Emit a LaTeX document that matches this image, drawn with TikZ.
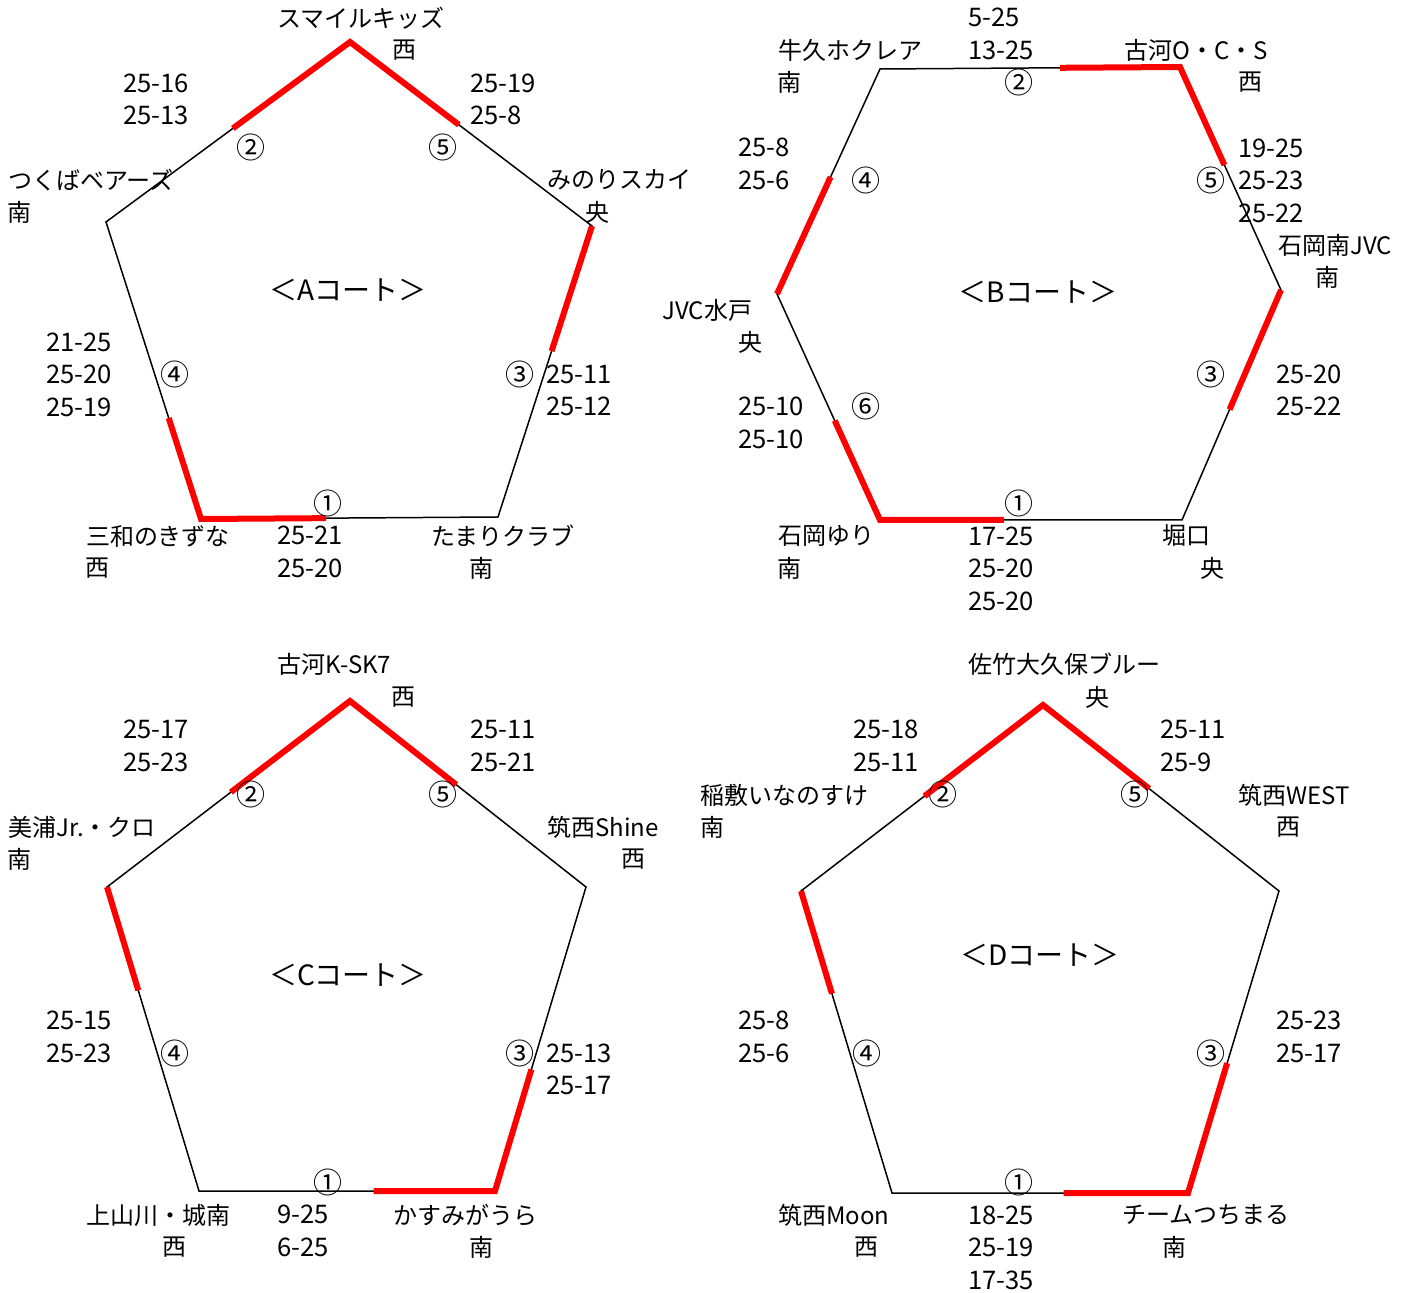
\documentclass[tikz,border=0pt]{standalone}
\usepackage{fontspec}
\setmainfont{Noto Sans CJK JP}
\usetikzlibrary{calc}
\newcommand\lblfont{\fontsize{12pt}{16.25pt}\selectfont}
\newcommand\scorefont{\fontsize{12.8pt}{16.25pt}\selectfont}
\newcommand\matchfont{\fontsize{14.5pt}{16pt}\selectfont}
\newcommand\courtfont{\fontsize{14pt}{16pt}\selectfont}

\begin{document}
\begin{tikzpicture}[x=0.5pt, y=-0.5pt,
  edge/.style={draw=black, line width=0.75pt},
  win/.style={draw=red, line width=3pt, line join=miter},
  lbl/.style={inner sep=0pt, font=\lblfont, anchor=west},
  score/.style={inner sep=0pt, font=\scorefont, align=left, anchor=west},
  area/.style={inner sep=0pt, font=\lblfont},
  match/.style={inner sep=0pt, font=\matchfont},
  court/.style={inner sep=0pt, font=\courtfont}
]
\useasboundingbox (0,0) rectangle (1425,1293);

% ---------------- A court
\coordinate (aT) at (350,42);
\coordinate (aL) at (106,222);
\coordinate (aR) at (592,226);
\coordinate (aBL) at (201,519);
\coordinate (aBR) at (498,517);
\draw[edge] (aT) -- (aR) -- (aBR) -- (aBL) -- (aL) -- cycle;
\draw[win] ($(aT)!0.48!(aL)$) -- (aT) -- ($(aT)!0.45!(aR)$);
\draw[win] (aR) -- ($(aR)!0.43!(aBR)$);
\draw[win] ($(aBL)!0.34!(aL)$) -- (aBL) -- ($(aBL)!0.42!(aBR)$);

\node[court] (aTitle) at (348,290) {＜Aコート＞};
\node[match] (aM1) at (328,503) {①};
\node[match] (aM2) at (251,147) {②};
\node[match] (aM3) at (520,374) {③};
\node[match] (aM4) at (175,374) {④};
\node[match] (aM5) at (443,147) {⑤};

\node[lbl] (aN1) at (277,18) {スマイルキッズ};
\node[area] (aA1) at (404,50) {西};
\node[lbl] (aN2) at (8,180) {つくばベアーズ};
\node[area] (aA2) at (20,212) {南};
\node[lbl] (aN3) at (547,180) {みのりスカイ};
\node[area] (aA3) at (597,212) {央};
\node[lbl] (aN4) at (86,536) {三和のきずな};
\node[area] (aA4) at (97,568) {西};
\node[lbl] (aN5) at (431,536) {たまりクラブ};
\node[area] (aA5) at (481,568) {南};

\node[score] (aS2) at (123,99.5) {25-16\\25-13};
\node[score] (aS5) at (470,99.5) {25-19\\25-8};
\node[score] (aS4) at (46,374.5) {21-25\\25-20\\25-19};
\node[score] (aS3) at (546,390.5) {25-11\\25-12};
\node[score] (aS1) at (277,552) {25-21\\25-20};

% ---------------- B court
\coordinate (bTL) at (880,69);
\coordinate (bTR) at (1180,67);
\coordinate (bR) at (1281,290);
\coordinate (bBR) at (1182,520);
\coordinate (bBL) at (880,520);
\coordinate (bL) at (777,294);
\draw[edge] (bTL) -- (bTR) -- (bR) -- (bBR) -- (bBL) -- (bL) -- cycle;
\draw[win] ($(bTR)!0.40!(bTL)$) -- (bTR) -- ($(bTR)!0.44!(bR)$);
\draw[win] (bR) -- ($(bR)!0.52!(bBR)$);
\draw[win] (bL) -- ($(bL)!0.52!(bTL)$);
\draw[win] ($(bBL)!0.44!(bL)$) -- (bBL) -- ($(bBL)!0.41!(bBR)$);

\node[court] (bTitle) at (1038,292) {＜Bコート＞};
\node[match] (bM1) at (1019,503) {①};
\node[match] (bM2) at (1019,82) {②};
\node[match] (bM3) at (1211,374) {③};
\node[match] (bM4) at (866,180) {④};
\node[match] (bM5) at (1211,180) {⑤};
\node[match] (bM6) at (866,406) {⑥};

\node[lbl] (bN1) at (778,50) {牛久ホクレア};
\node[area] (bA1) at (789,82) {南};
\node[lbl] (bN2) at (1124,50) {古河O・C・S};
\node[area] (bA2) at (1250,82) {西};
\node[lbl] (bN3) at (1278,245) {石岡南JVC};
\node[area] (bA3) at (1327,277) {南};
\node[lbl] (bN4) at (662,310) {JVC水戸};
\node[area] (bA4) at (750,342) {央};
\node[lbl] (bN5) at (778,536) {石岡ゆり};
\node[area] (bA5) at (789,568) {南};
\node[lbl] (bN6) at (1162,536) {堀口};
\node[area] (bA6) at (1212,568) {央};

\node[score] (bS2) at (968,34) {5-25\\13-25};
\node[score] (bS4) at (738,164) {25-8\\25-6};
\node[score] (bS5) at (1238,180.5) {19-25\\25-23\\25-22};
\node[score] (bS3) at (1276,390.5) {25-20\\25-22};
\node[score] (bS6) at (738,423) {25-10\\25-10};
\node[score] (bS1) at (968,568.5) {17-25\\25-20\\25-20};

% ---------------- C court
\coordinate (cT) at (350,701);
\coordinate (cL) at (107,887);
\coordinate (cR) at (586,887);
\coordinate (cBL) at (199,1191);
\coordinate (cBR) at (495,1191);
\draw[edge] (cT) -- (cR) -- (cBR) -- (cBL) -- (cL) -- cycle;
\draw[win] ($(cT)!0.49!(cL)$) -- (cT) -- ($(cT)!0.45!(cR)$);
\draw[win] (cL) -- ($(cL)!0.34!(cBL)$);
\draw[win] ($(cBR)!0.40!(cR)$) -- (cBR) -- ($(cBR)!0.41!(cBL)$);

\node[court] (cTitle) at (348,975) {＜Cコート＞};
\node[match] (cM1) at (328,1182) {①};
\node[match] (cM2) at (251,794) {②};
\node[match] (cM3) at (520,1053) {③};
\node[match] (cM4) at (175,1053) {④};
\node[match] (cM5) at (443,794) {⑤};

\node[lbl] (cN1) at (277,664) {古河K-SK7};
\node[area] (cA1) at (403,697) {西};
\node[lbl] (cN2) at (8,827) {美浦Jr.・クロ};
\node[area] (cA2) at (20,859) {南};
\node[lbl] (cN3) at (547,827) {筑西Shine};
\node[area] (cA3) at (633,859) {西};
\node[lbl] (cN4) at (86,1215) {上山川・城南};
\node[area] (cA4) at (174,1247) {西};
\node[lbl] (cN5) at (393,1215) {かすみがうら};
\node[area] (cA5) at (481,1247) {南};

\node[score] (cS2) at (123,746) {25-17\\25-23};
\node[score] (cS5) at (470,746) {25-11\\25-21};
\node[score] (cS4) at (46,1037) {25-15\\25-23};
\node[score] (cS3) at (546,1069.5) {25-13\\25-17};
\node[score] (cS1) at (277,1231) {9-25\\6-25};

% ---------------- D court
\coordinate (dT) at (1043,705);
\coordinate (dL) at (801,891);
\coordinate (dR) at (1279,891);
\coordinate (dBL) at (892,1193);
\coordinate (dBR) at (1188,1193);
\draw[edge] (dT) -- (dR) -- (dBR) -- (dBL) -- (dL) -- cycle;
\draw[win] ($(dT)!0.49!(dL)$) -- (dT) -- ($(dT)!0.45!(dR)$);
\draw[win] (dL) -- ($(dL)!0.34!(dBL)$);
\draw[win] ($(dBR)!0.43!(dR)$) -- (dBR) -- ($(dBR)!0.42!(dBL)$);

\node[court] (dTitle) at (1040,955) {＜Dコート＞};
\node[match] (dM1) at (1019,1182) {①};
\node[match] (dM2) at (943,794) {②};
\node[match] (dM3) at (1211,1053) {③};
\node[match] (dM4) at (867,1053) {④};
\node[match] (dM5) at (1135,794) {⑤};

\node[lbl] (dN1) at (968,664) {佐竹大久保ブルー};
\node[area] (dA1) at (1097,697) {央};
\node[lbl] (dN2) at (700,795) {稲敷いなのすけ};
\node[area] (dA2) at (712,827) {南};
\node[lbl] (dN3) at (1238,795) {筑西WEST};
\node[area] (dA3) at (1288,827) {西};
\node[lbl] (dN4) at (778,1215) {筑西Moon};
\node[area] (dA4) at (866,1247) {西};
\node[lbl] (dN5) at (1122,1215) {チームつちまる};
\node[area] (dA5) at (1174,1247) {南};

\node[score] (dS2) at (853,746) {25-18\\25-11};
\node[score] (dS5) at (1160,746) {25-11\\25-9};
\node[score] (dS4) at (738,1037) {25-8\\25-6};
\node[score] (dS3) at (1276,1037) {25-23\\25-17};
\node[score] (dS1) at (968,1247.5) {18-25\\25-19\\17-35};

\end{tikzpicture}
\end{document}
